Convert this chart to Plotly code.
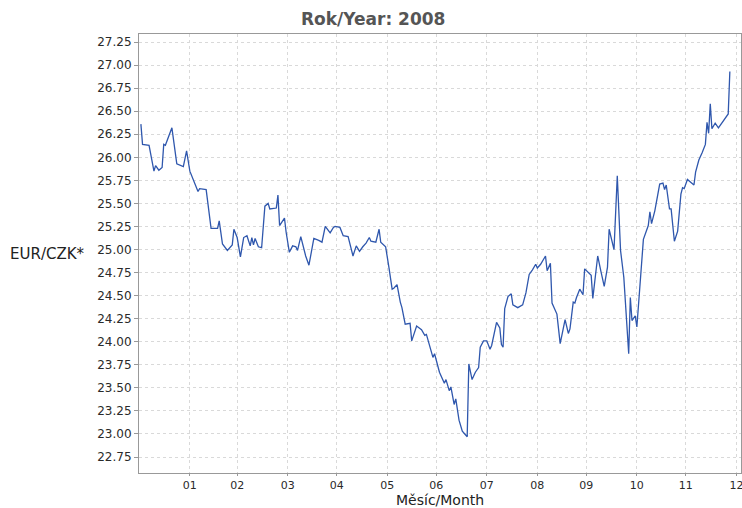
import plotly.graph_objects as go

dates = [
"2008-01-02","2008-01-03","2008-01-07","2008-01-10","2008-01-11","2008-01-13","2008-01-15","2008-01-16","2008-01-17","2008-01-21",
"2008-01-24","2008-01-28","2008-01-30","2008-02-01","2008-02-06","2008-02-07","2008-02-11","2008-02-14","2008-02-18","2008-02-19",
"2008-02-21","2008-02-24","2008-02-27","2008-02-28","2008-03-01","2008-03-03","2008-03-05","2008-03-07","2008-03-09","2008-03-10",
"2008-03-11","2008-03-12","2008-03-14","2008-03-16","2008-03-18","2008-03-20","2008-03-21","2008-03-25","2008-03-26","2008-03-27",
"2008-03-30","2008-03-31","2008-04-02","2008-04-04","2008-04-06","2008-04-07","2008-04-09","2008-04-11","2008-04-12","2008-04-14",
"2008-04-17","2008-04-20","2008-04-22","2008-04-24","2008-04-26","2008-04-27","2008-04-29","2008-04-30","2008-05-03","2008-05-05",
"2008-05-08","2008-05-10","2008-05-11","2008-05-13","2008-05-15","2008-05-17","2008-05-19","2008-05-21","2008-05-22","2008-05-25",
"2008-05-27","2008-05-28","2008-05-31","2008-06-02","2008-06-04","2008-06-05","2008-06-07","2008-06-09","2008-06-10","2008-06-12",
"2008-06-15","2008-06-16","2008-06-19","2008-06-22","2008-06-24","2008-06-25","2008-06-27","2008-06-29","2008-06-30","2008-07-03",
"2008-07-06","2008-07-07","2008-07-09","2008-07-10","2008-07-12","2008-07-13","2008-07-15","2008-07-17","2008-07-20","2008-07-21",
"2008-07-23","2008-07-25","2008-07-27","2008-07-28","2008-07-30","2008-08-01","2008-08-03","2008-08-04","2008-08-07","2008-08-09",
"2008-08-10","2008-08-11","2008-08-12","2008-08-14","2008-08-16","2008-08-17","2008-08-20","2008-08-23","2008-08-25","2008-08-27",
"2008-08-29","2008-08-31","2008-09-01","2008-09-03","2008-09-06","2008-09-07","2008-09-09","2008-09-10","2008-09-13","2008-09-15",
"2008-09-18","2008-09-20","2008-09-21","2008-09-23","2008-09-24","2008-09-25","2008-09-27","2008-09-29","2008-09-30","2008-10-04",
"2008-10-05","2008-10-08","2008-10-10","2008-10-12","2008-10-14","2008-10-15","2008-10-18","2008-10-20","2008-10-22","2008-10-24",
"2008-10-27","2008-10-28","2008-10-29","2008-10-31","2008-11-01","2008-11-05","2008-11-08","2008-11-09","2008-11-10","2008-11-12",
"2008-11-15","2008-11-17","2008-11-18","2008-11-19","2008-11-21","2008-11-22","2008-11-24","2008-11-26","2008-11-28","2008-11-29",
"2008-11-30","2008-12-02","2008-12-04","2008-12-06","2008-12-07","2008-12-09","2008-12-11","2008-12-13","2008-12-14","2008-12-15",
"2008-12-16","2008-12-17","2008-12-19","2008-12-21","2008-12-27","2008-12-28",
]

eur_czk = [
26.36, 26.14, 26.13, 25.85, 25.91, 25.86, 25.89, 26.14, 26.13, 26.32,
25.93, 25.90, 26.07, 25.85, 25.63, 25.66, 25.65, 25.23, 25.23, 25.31,
25.06, 24.99, 25.05, 25.22, 25.13, 24.92, 25.13, 25.15, 25.04, 25.13,
25.05, 25.12, 25.03, 25.02, 25.47, 25.50, 25.44, 25.45, 25.59, 25.26,
25.34, 25.19, 24.97, 25.04, 25.03, 24.99, 25.14, 24.98, 24.93, 24.83,
25.12, 25.10, 25.08, 25.25, 25.20, 25.18, 25.24, 25.25, 25.24, 25.15,
25.14, 24.99, 24.93, 25.04, 24.98, 25.03, 25.07, 25.13, 25.09, 25.08,
25.22, 25.08, 25.03, 24.81, 24.57, 24.58, 24.62, 24.43, 24.37, 24.19,
24.20, 24.01, 24.17, 24.13, 24.07, 24.08, 23.96, 23.83, 23.87, 23.67,
23.55, 23.59, 23.47, 23.51, 23.32, 23.38, 23.15, 23.03, 22.97, 23.76,
23.59, 23.67, 23.72, 23.94, 24.01, 24.01, 23.92, 23.96, 24.21, 24.15,
23.97, 23.94, 24.36, 24.49, 24.52, 24.40, 24.37, 24.40, 24.53, 24.73,
24.78, 24.84, 24.80, 24.84, 24.93, 24.77, 24.85, 24.42, 24.30, 23.98,
24.24, 24.09, 24.14, 24.43, 24.42, 24.48, 24.57, 24.51, 24.79, 24.72,
24.47, 24.93, 24.76, 24.60, 24.81, 25.22, 25.00, 25.80, 24.99, 24.70,
23.87, 24.48, 24.23, 24.28, 24.16, 25.11, 25.26, 25.41, 25.28, 25.42,
25.71, 25.72, 25.65, 25.70, 25.44, 25.44, 25.09, 25.20, 25.60, 25.67,
25.66, 25.76, 25.73, 25.70, 25.84, 25.97, 26.05, 26.14, 26.38, 26.26,
26.58, 26.31, 26.37, 26.32, 26.47, 26.93,
]

month_ticks = ["2008-02-01", "2008-03-01", "2008-04-01", "2008-05-01", "2008-06-01", "2008-07-01",
               "2008-08-01", "2008-09-01", "2008-10-01", "2008-11-01", "2008-12-01", "2009-01-01"]
month_labels = ["01", "02", "03", "04", "05", "06", "07", "08", "09", "10", "11", "12"]

title_text = "Rok/Year: 2008"
y_title = "EUR/CZK*"
x_title = "Měsíc/Month"

FONT = "DejaVu Sans"

fig = go.Figure()
fig.add_trace(go.Scatter(
    x=dates, y=eur_czk, mode="lines",
    line=dict(color="#2f57ad", width=1.3),
    showlegend=False, hoverinfo="x+y",
))

fig.update_layout(
    width=742, height=508,
    margin=dict(l=139, r=1, t=34, b=35, autoexpand=False),
    paper_bgcolor="white", plot_bgcolor="white",
    title=dict(text="<b>" + title_text + "</b>", x=0.503, xref="container",
               y=1 - 19 / 508, yref="container", yanchor="middle", xanchor="center",
               font=dict(family=FONT, size=17, color="#555555"), automargin=False),
    font=dict(family=FONT, color="#333333"),
)

fig.update_xaxes(
    type="date", automargin=False,
    range=["2007-12-31 20:00", "2009-01-03 20:00"],
    tickvals=month_ticks, ticktext=month_labels,
    ticklabeloverflow="allow",
    tickfont=dict(family=FONT, size=11, color="#2a2a2a"),
    showgrid=True, gridcolor="#d9d9d9", griddash="3px,3px", gridwidth=1,
    showline=True, linecolor="#999999", linewidth=1, mirror=True,
    ticks="outside", ticklen=2, tickcolor="#999999",
    zeroline=False,
)

fig.update_yaxes(
    automargin=False,
    range=[22.577, 27.337],
    tick0=22.75, dtick=0.25, tickformat=".2f",
    tickfont=dict(family=FONT, size=12, color="#2a2a2a"),
    showgrid=True, gridcolor="#d9d9d9", griddash="3px,3px", gridwidth=1,
    showline=True, linecolor="#999999", linewidth=1, mirror=True,
    ticks="outside", ticklen=4, tickcolor="#999999",
    zeroline=False,
)

fig.add_annotation(
    text=y_title, xref="paper", yref="paper", x=0, y=0.5,
    xanchor="right", yanchor="middle", xshift=-52, showarrow=False,
    font=dict(family=FONT, size=15, color="#222222"),
)
fig.add_annotation(
    text=x_title, xref="paper", yref="paper", x=0.5, y=0,
    xanchor="center", yanchor="middle", yshift=-27, showarrow=False,
    font=dict(family=FONT, size=14, color="#222222"),
)

fig.write_html("out.html", config={"displayModeBar": False},
               post_script="document.body.style.margin='0';document.body.style.overflow='hidden';")
